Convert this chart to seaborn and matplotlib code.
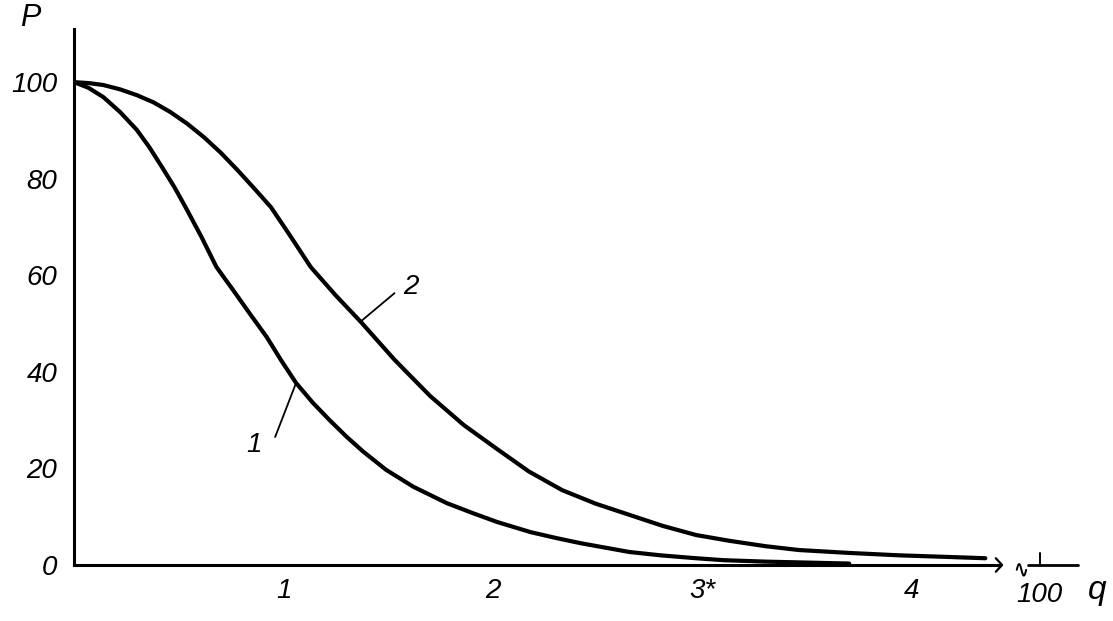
import numpy as np
import pandas as pd
import matplotlib
matplotlib.use("Agg")
import matplotlib.pyplot as plt
import seaborn as sns

# ---- data ----
q1 = [0.0, 0.07, 0.14, 0.22, 0.30, 0.36, 0.42, 0.48, 0.54, 0.61, 0.68, 0.76,
      0.84, 0.92, 0.99, 1.06, 1.14, 1.22, 1.30, 1.38, 1.49, 1.62, 1.78, 1.90,
      2.02, 2.18, 2.30, 2.42, 2.65, 2.80, 2.97, 3.10, 3.30, 3.50, 3.70]
p1 = [100, 98.8, 96.9, 93.8, 90.1, 86.5, 82.4, 78.2, 73.5, 67.8, 61.7, 56.9,
      52.0, 47.2, 42.3, 37.7, 33.6, 30.0, 26.6, 23.5, 19.7, 16.2, 12.8, 10.8,
      8.9, 6.8, 5.6, 4.5, 2.7, 2.0, 1.4, 1.0, 0.7, 0.5, 0.3]
q2 = [0.0, 0.07, 0.14, 0.22, 0.30, 0.38, 0.46, 0.54, 0.62, 0.70, 0.78, 0.86,
      0.94, 1.03, 1.13, 1.25, 1.37, 1.53, 1.70, 1.86, 2.02, 2.17, 2.33, 2.49,
      2.65, 2.81, 2.97, 3.13, 3.30, 3.46, 3.70, 3.94, 4.15, 4.35]
p2 = [100, 99.8, 99.4, 98.5, 97.3, 95.8, 93.8, 91.4, 88.6, 85.4, 81.8, 78.0,
      74.1, 68.3, 61.7, 55.8, 50.3, 42.5, 35.0, 29.0, 24.0, 19.4, 15.5, 12.7,
      10.4, 8.1, 6.2, 5.0, 3.9, 3.1, 2.5, 2.0, 1.7, 1.4]
x_ticks = [1, 2, 3, 4]
x_tick_labels = ["1", "2", "3*", "4"]
y_major = [0, 20, 40, 60, 80, 100]
y_minor = [10, 30, 50, 70, 90]
curve_labels = ["1", "2"]

df = pd.concat([
    pd.DataFrame({"q": q1, "P": p1, "curve": curve_labels[0]}),
    pd.DataFrame({"q": q2, "P": p2, "curve": curve_labels[1]}),
])

sns.set_style("white")
plt.rcParams["font.family"] = ["Liberation Sans", "DejaVu Sans"]
plt.rcParams["font.style"] = "italic"
plt.rcParams["text.color"] = "black"
plt.rcParams["xtick.color"] = "black"
plt.rcParams["ytick.color"] = "black"

W, H = 1113, 621
fig = plt.figure(figsize=(W / 100, H / 100), dpi=100)
ax = fig.add_axes([74 / W, 56 / H, 926 / W, 536 / H])

sns.lineplot(data=df, x="q", y="P", hue="curve", palette=["black", "black"],
             linewidth=3.0, legend=False, ax=ax, sort=False,
             solid_joinstyle="round", solid_capstyle="round")

ax.set_xlim(0, 4.42)
ax.set_ylim(0, 111)
for s in ["top", "right"]:
    ax.spines[s].set_visible(False)
for s in ["left", "bottom"]:
    ax.spines[s].set_linewidth(2.2)
    ax.spines[s].set_color("black")

ax.set_xticks(x_ticks)
ax.set_xticklabels(x_tick_labels)
ax.set_yticks(y_major)
ax.set_yticks(y_minor, minor=True)
ax.tick_params(axis="both", which="both", direction="in", color="black",
               width=1.4, labelsize=20, labelcolor="black")
ax.tick_params(axis="y", which="major", length=12, pad=12)
ax.tick_params(axis="y", which="minor", length=12)
ax.tick_params(axis="x", which="major", length=9, pad=9)
for lab in ax.get_xticklabels() + ax.get_yticklabels():
    lab.set_fontstyle("italic")
ax.set_xlabel("")
ax.set_ylabel("")

# axis end arrow, break symbol and the "100" segment
ax.plot([4.40, 4.43, 4.40], [1.4, 0, -1.4], color="black", lw=1.6, clip_on=False)
bx = np.linspace(4.50, 4.545, 30)
by = -1.0 + 1.2 * np.sin((bx - 4.50) / 0.045 * 2 * np.pi)
ax.plot(bx, by, color="black", lw=1.4, clip_on=False)
ax.plot([4.555, 4.79], [0, 0], color="black", lw=2.0, clip_on=False)
ax.plot([4.61, 4.61], [0, 2.5], color="black", lw=1.4, clip_on=False)
ax.text(4.61, -3.5, "100", ha="center", va="top", fontsize=20, style="italic",
        color="black")

# curve labels with leader lines
ax.plot([1.06, 0.96], [37.7, 26.5], color="black", lw=1.3)
ax.text(0.86, 24.8, curve_labels[0], ha="center", va="center", fontsize=20,
        style="italic", color="black")
ax.plot([1.365, 1.53], [50.3, 56.3], color="black", lw=1.3)
ax.text(1.61, 57.6, curve_labels[1], ha="center", va="center", fontsize=20,
        style="italic", color="black")

# axis names
fig.text(30 / W, 1 - 18 / H, "P", ha="center", va="center", fontsize=22,
         style="italic", color="black")
fig.text(1097 / W, 1 - 590 / H, "q", ha="center", va="center", fontsize=24,
         style="italic", color="black")

fig.savefig("out.png", dpi=100, facecolor="white")
